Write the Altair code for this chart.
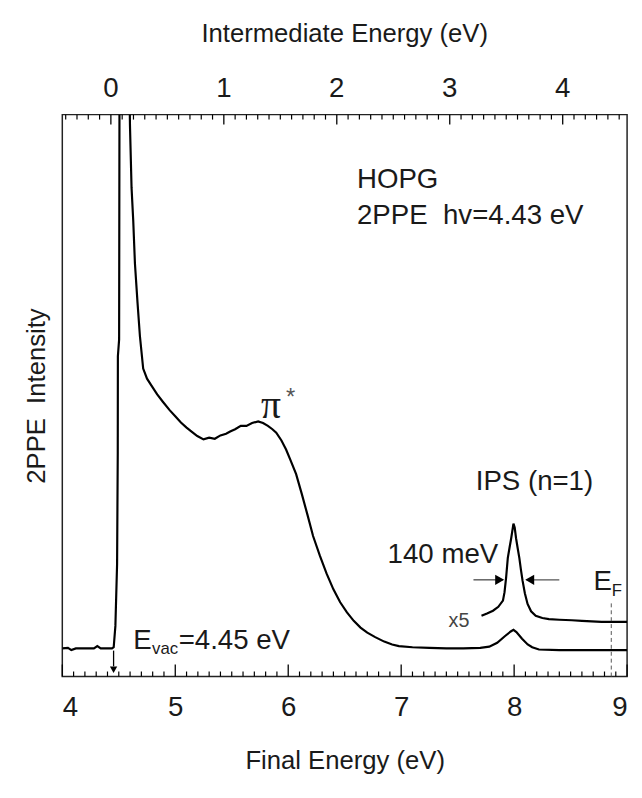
import altair as alt
import pandas as pd

FONT = "Liberation Sans"
SERIF = "Liberation Serif"
INK = "#1a1a1a"
NB = "\u00a0"

# ---- data ----
# main 2PPE spectrum: final-state energy (eV) and intensity (arb. units)
main_e = [4.00, 4.05, 4.08, 4.12, 4.20, 4.28, 4.31, 4.34, 4.44, 4.455, 4.47, 4.485, 4.491, 4.492,
          4.503, 4.506, 4.51, 4.59, 4.597, 4.599, 4.613, 4.628, 4.643, 4.666, 4.687, 4.716,
          4.75, 4.788, 4.84, 4.89, 4.95, 5.00, 5.05, 5.10, 5.15, 5.195, 5.25, 5.30, 5.35, 5.40,
          5.45, 5.486, 5.53, 5.58, 5.63, 5.68, 5.734, 5.777, 5.82, 5.86, 5.894, 5.94, 5.981,
          6.02, 6.07, 6.12, 6.17, 6.22, 6.28, 6.34, 6.40, 6.46, 6.52, 6.58, 6.64, 6.70, 6.77,
          6.85, 6.92, 6.98, 7.10, 7.25, 7.40, 7.55, 7.70, 7.78, 7.85, 7.92, 7.97, 7.994, 8.02,
          8.07, 8.12, 8.16, 8.22, 8.40, 8.70, 9.00]
main_i = [5.0, 5.1, 4.7, 5.0, 5.0, 5.0, 5.4, 5.0, 5.0, 5.2, 9.0, 20.0, 40.0, 57.0,
          60.0, 100.0, 118.0, 118.0, 101.0, 98.1, 87.0, 81.1, 73.5, 66.5, 60.6, 54.8,
          53.0, 51.8, 50.2, 48.9, 47.4, 46.3, 45.2, 44.3, 43.5, 42.8, 42.2, 42.5, 42.3, 42.9,
          43.2, 43.6, 44.0, 44.6, 44.6, 45.1, 45.4, 45.1, 44.6, 44.0, 43.4, 42.0, 40.4,
          38.5, 36.0, 32.5, 28.8, 25.0, 21.5, 18.3, 15.5, 13.2, 11.4, 9.9, 8.7, 7.8, 7.0,
          6.2, 5.7, 5.4, 5.2, 5.1, 5.0, 5.0, 5.1, 5.3, 6.0, 7.2, 8.0, 8.3, 7.9,
          6.7, 5.7, 5.2, 4.8, 4.7, 4.7, 4.7]

# IPS region multiplied by 5
x5_e = [7.711, 7.76, 7.813, 7.86, 7.901, 7.915, 7.929, 7.944, 7.96, 7.974, 7.994, 8.005,
        8.017, 8.03, 8.046, 8.06, 8.075, 8.095, 8.119, 8.15, 8.191, 8.25, 8.308, 8.40,
        8.511, 8.60, 8.773, 9.00]
x5_i = [10.8, 11.2, 11.7, 12.4, 13.5, 15.0, 17.6, 21.1, 23.0, 24.6, 27.2, 26.5,
        24.6, 23.0, 21.1, 19.0, 17.0, 14.8, 12.9, 11.6, 10.8, 10.4, 10.2, 10.1,
        10.0, 9.9, 9.7, 9.7]

HV = 4.43          # photon energy: intermediate = final - hv
E_VAC = 4.454
E_F = 8.86

bottom_major = [4, 5, 6, 7, 8, 9]
bottom_minor = [round(4 + k * 0.1, 1) for k in range(51) if k % 10]
top_major = [0, 1, 2, 3, 4]
top_minor = [round(-0.4 + k * 0.1, 1) for k in range(50) if (k - 4) % 10]

W, H = 572, 569
xs = alt.Scale(domain=[4, 9], nice=False, zero=False)
ys = alt.Scale(domain=[0, 100], nice=False, zero=False)

X_AXIS = alt.Axis(title="Final Energy (eV)", values=bottom_major, format="d",
                  ticks=False, domain=False, grid=False,
                  labelFont=FONT, labelFontSize=28, labelColor=INK, labelPadding=18,
                  titleFont=FONT, titleFontSize=26, titleFontWeight="normal",
                  titleColor=INK, titlePadding=26)
Y_AXIS = alt.Axis(title="2PPE" + NB + " Intensity", labels=False, ticks=False,
                  domain=False, grid=False, titleFont=FONT, titleFontSize=26,
                  titleFontWeight="normal", titleColor=INK, titlePadding=13)


def X(field):
    return alt.X(field, type="quantitative", scale=xs, axis=X_AXIS)


def Y(field):
    return alt.Y(field, type="quantitative", scale=ys, axis=Y_AXIS)


df_main = pd.DataFrame({"e": main_e, "i": main_i, "k": range(len(main_e))})
df_x5 = pd.DataFrame({"e": x5_e, "i": x5_i, "k": range(len(x5_e))})

main_line = alt.Chart(df_main).mark_line(color="black", strokeWidth=2.2, clip=True).encode(
    x=X("e"), y=Y("i"), order="k:Q")
x5_line = alt.Chart(df_x5).mark_line(color="black", strokeWidth=2.2, clip=True).encode(
    x=X("e"), y=Y("i"), order="k:Q")

# bottom inward ticks
bmaj = alt.Chart(pd.DataFrame({"t": bottom_major})).mark_rule(color="black", strokeWidth=1.3).encode(
    x=X("t"), y=alt.value(H), y2=alt.value(H - 12))
bmin = alt.Chart(pd.DataFrame({"t": bottom_minor})).mark_rule(color="black", strokeWidth=1.2).encode(
    x=X("t"), y=alt.value(H), y2=alt.value(H - 5))

# top axis (intermediate energy = final - hv): inward ticks and labels
tmaj = alt.Chart(pd.DataFrame({"u": top_major})).transform_calculate(
    e=f"datum.u + {HV}").mark_rule(color="black", strokeWidth=1.3).encode(
    x=X("e"), y=alt.value(0), y2=alt.value(10))
tmin = alt.Chart(pd.DataFrame({"u": top_minor})).transform_calculate(
    e=f"datum.u + {HV}").mark_rule(color="black", strokeWidth=1.2).encode(
    x=X("e"), y=alt.value(0), y2=alt.value(5))
tlab = alt.Chart(pd.DataFrame({"u": top_major})).transform_calculate(
    e=f"datum.u + {HV}").mark_text(font=FONT, fontSize=28, color=INK, baseline="alphabetic",
                                  align="center").encode(
    x=X("e"), y=alt.value(-18), text=alt.Text("u:Q", format="d"))
ttitle = alt.Chart(pd.DataFrame({"t": ["Intermediate Energy (eV)"]})).mark_text(
    font=FONT, fontSize=26, color=INK, baseline="alphabetic", align="center").encode(
    x=alt.value(W / 2), y=alt.value(-74), text="t:N")

# E_F dashed line
ef = alt.Chart(pd.DataFrame({"e": [E_F], "y0": [0], "y1": [13.5]})).mark_rule(
    color="#555", strokeWidth=1, strokeDash=[4, 3]).encode(
    x=X("e"), y=Y("y0"), y2="y1:Q")

# E_vac arrow
evac_line = alt.Chart(pd.DataFrame({"e": [E_VAC], "y0": [4.6], "y1": [1.8]})).mark_rule(
    color="black", strokeWidth=1.3).encode(
    x=X("e"), y=Y("y0"), y2="y1:Q")
evac_head = alt.Chart(pd.DataFrame({"e": [E_VAC], "i": [1.2]})).mark_point(
    shape="triangle-down", filled=True, color="black", size=55, opacity=1).encode(
    x=X("e"), y=Y("i"))

# FWHM arrows (140 meV)
w_left = alt.Chart(pd.DataFrame({"e": [7.64], "e2": [7.90], "i": [17.2]})).mark_rule(
    color="#555", strokeWidth=1.4).encode(x=X("e"), x2="e2:Q", y=Y("i"))
w_right = alt.Chart(pd.DataFrame({"e": [8.11], "e2": [8.40], "i": [17.2]})).mark_rule(
    color="#555", strokeWidth=1.4).encode(x=X("e"), x2="e2:Q", y=Y("i"))
h_left = alt.Chart(pd.DataFrame({"e": [7.872], "i": [17.2]})).mark_point(
    shape="triangle-right", filled=True, color="black", size=110, opacity=1).encode(
    x=X("e"), y=Y("i"))
h_right = alt.Chart(pd.DataFrame({"e": [8.138], "i": [17.2]})).mark_point(
    shape="triangle-left", filled=True, color="black", size=110, opacity=1).encode(
    x=X("e"), y=Y("i"))


def label(txt, e, i, size=28, font=FONT, color=INK, align="left", dx=0, dy=0):
    return alt.Chart(pd.DataFrame({"e": [e], "i": [i], "t": [txt]})).mark_text(
        font=font, fontSize=size, color=color, align=align, baseline="alphabetic",
        dx=dx, dy=dy).encode(x=X("e"), y=Y("i"), text="t:N")


texts = [
    label("HOPG", 6.609, 87.0),
    label("2PPE" + NB + NB + "hv=4.43 eV", 6.609, 80.5),
    label("\u03c0", 5.76, 46.0, size=40, font=SERIF),
    label("*", 5.98, 48.3, size=24, color="#555"),
    label("IPS (n=1)", 7.66, 33.1),
    label("140 meV", 6.88, 20.2),
    label("x5", 7.42, 8.8, size=20, color="#444"),
    label("E", 8.703, 15.3),
    label("F", 8.703, 15.3, size=17, dx=18.5, dy=6),
    label("E", 4.628, 4.97),
    label("vac", 4.628, 4.97, size=17, dx=19, dy=6),
    label("=4.45 eV", 4.628, 4.97, dx=46),
]

chart = alt.layer(main_line, x5_line, bmaj, bmin, tmaj, tmin, tlab, ttitle, ef,
                  evac_line, evac_head, w_left, w_right, h_left, h_right, *texts).properties(
    width=W, height=H,
    padding={"left": 55, "top": 103, "right": 7, "bottom": 110},
    autosize=alt.AutoSizeParams(type="none"),
).configure_view(stroke="#222", strokeWidth=1.5)

chart.save("out.html", embed_options={"renderer": "svg", "actions": False})
